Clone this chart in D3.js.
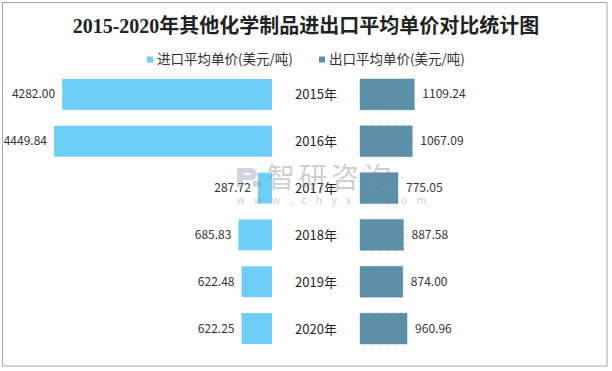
<!DOCTYPE html>
<html>
<head>
<meta charset="utf-8">
<script src="https://cdn.jsdelivr.net/npm/d3@7"></script>
<style>
  body { margin: 0; background: #fff; }
  text { font-family: "Microsoft YaHei", "Noto Sans CJK SC", sans-serif; }
</style>
</head>
<body>
<div id="chart"></div>
<script>
// data
const years = ['2015年', '2016年', '2017年', '2018年', '2019年', '2020年'];
const importPrice = [4282.00, 4449.84, 287.72, 685.83, 622.48, 622.25];
const exportPrice = [1109.24, 1067.09, 775.05, 887.58, 874.00, 960.96];
const seriesNames = ['进口平均单价(美元/吨)', '出口平均单价(美元/吨)'];
const colors = ['#6dcff6', '#5b90a8'];

const width = 612, height = 371;
const svg = d3.select('#chart').append('svg')
    .attr('width', width)
    .attr('height', height);

// outer frame
svg.append('rect')
    .attr('x', 2.5).attr('y', 2.5)
    .attr('width', 604.5).attr('height', 363.5)
    .attr('fill', '#fff')
    .attr('stroke', '#a6a6a6')
    .attr('stroke-width', 1);

// title
svg.append('text')
    .attr('x', 306).attr('y', 33)
    .attr('text-anchor', 'middle')
    .style('font-family', '"Liberation Serif", "Noto Sans CJK SC", serif')
    .style('font-size', '20px')
    .style('font-weight', 'bold')
    .attr('fill', '#222')
    .text('2015-2020年其他化学制品进出口平均单价对比统计图');

// legend
const legendX = [147, 319];
seriesNames.forEach((name, i) => {
    svg.append('rect')
        .attr('x', legendX[i]).attr('y', 56.5)
        .attr('width', 6).attr('height', 6)
        .attr('fill', colors[i]);
    svg.append('text')
        .attr('x', legendX[i] + 10).attr('y', 64)
        .style('font-size', '13.5px')
        .attr('fill', '#333')
        .text(name);
});

const y = d3.scaleBand()
    .domain(years)
    .range([71, 352])
    .paddingInner(0.34)
    .paddingOuter(0.17);

const x = d3.scaleLinear()
    .domain([0, 4500])
    .range([0, 220.5]);

const leftBase = 272, rightBase = 360, midX = 316;

// import bars (to the left)
svg.selectAll('.imp')
    .data(importPrice)
    .enter().append('rect')
    .attr('class', 'imp')
    .attr('x', d => leftBase - x(d))
    .attr('y', (d, i) => y(years[i]))
    .attr('width', d => x(d))
    .attr('height', y.bandwidth())
    .attr('fill', colors[0]);

svg.selectAll('.impLabel')
    .data(importPrice)
    .enter().append('text')
    .attr('class', 'impLabel')
    .attr('x', d => leftBase - x(d) - 7)
    .attr('y', (d, i) => y(years[i]) + y.bandwidth() / 2 + 4)
    .attr('text-anchor', 'end')
    .style('font-size', '12px')
    .attr('fill', '#333')
    .text(d => d.toFixed(2));

// export bars (to the right)
svg.selectAll('.exp')
    .data(exportPrice)
    .enter().append('rect')
    .attr('class', 'exp')
    .attr('x', rightBase)
    .attr('y', (d, i) => y(years[i]))
    .attr('width', d => x(d))
    .attr('height', y.bandwidth())
    .attr('fill', colors[1])
    .attr('stroke', '#4a7a90')
    .attr('stroke-dasharray', '1,1')
    .attr('stroke-width', 0.6);

svg.selectAll('.expLabel')
    .data(exportPrice)
    .enter().append('text')
    .attr('class', 'expLabel')
    .attr('x', d => rightBase + x(d) + 8)
    .attr('y', (d, i) => y(years[i]) + y.bandwidth() / 2 + 4)
    .style('font-size', '12px')
    .attr('fill', '#333')
    .text(d => d.toFixed(2));

// year labels in the middle
svg.selectAll('.year')
    .data(years)
    .enter().append('text')
    .attr('class', 'year')
    .attr('x', midX)
    .attr('y', d => y(d) + y.bandwidth() / 2 + 5)
    .attr('text-anchor', 'middle')
    .style('font-size', '13px')
    .attr('fill', '#222')
    .text(d => d);

// watermark
const wm = svg.append('g').attr('opacity', 0.4);
wm.append('path')
    .attr('d', 'M237,168 h14 a6,6 0 0 1 0,12 h-8 v7 h-6 z M244,173 v2 h6 a1,1 0 0 0 0,-2 z M253,181 h9 v6 h-9 z')
    .attr('fill', '#8a9bb0')
    .attr('fill-rule', 'evenodd');
wm.append('text')
    .attr('x', 267).attr('y', 188)
    .style('font-size', '28px')
    .attr('fill', '#7f8c99')
    .style('letter-spacing', '4px')
    .text('智研咨询');
wm.append('text')
    .attr('x', 236).attr('y', 204)
    .style('font-size', '11px')
    .attr('fill', '#7f8c99')
    .style('letter-spacing', '9px')
    .text('www.chyxx.com');
</script>
</body>
</html>
